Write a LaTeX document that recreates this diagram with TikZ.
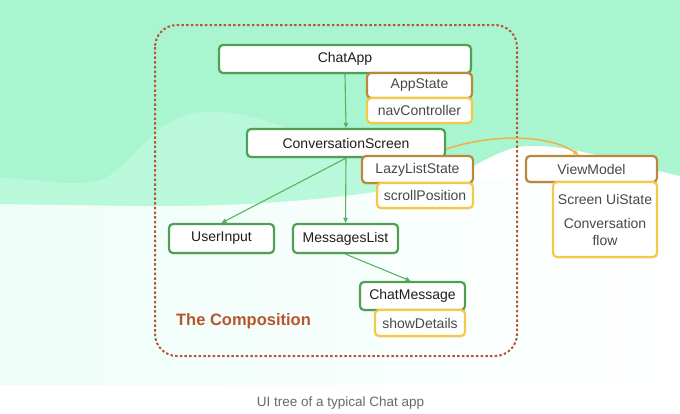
\documentclass[tikz,border=0pt]{standalone}
\usepackage{fontspec}
\setmainfont{Liberation Sans}
\usetikzlibrary{arrows.meta,calc,shadows}
\definecolor{mint}{RGB}{168,245,208}
\definecolor{mintlight}{RGB}{204,251,230}
\definecolor{tint}{RGB}{238,254,249}
\definecolor{gborder}{RGB}{80,160,84}
\definecolor{garrow}{RGB}{92,178,96}
\definecolor{brownb}{RGB}{186,136,58}
\definecolor{yellowb}{RGB}{242,202,72}
\definecolor{dashc}{RGB}{178,88,56}
\definecolor{titlec}{RGB}{182,86,44}
\definecolor{orangec}{RGB}{240,178,72}
\definecolor{txt}{RGB}{30,30,30}
\definecolor{txtb}{RGB}{72,72,72}
\definecolor{capc}{RGB}{105,105,105}
\pgfdeclarehorizontalshading{bgmint}{100bp}{color(0bp)=(mintlight); color(12bp)=(mint); color(85bp)=(mint); color(100bp)=(mintlight)}
\begin{document}
\begin{tikzpicture}[x=1pt,y=-1pt,
  base/.style={draw, fill=white, rounded corners=4pt, line width=2.2pt, inner sep=0pt,
    font=\fontsize{14}{16}\selectfont, text=txt,
    drop shadow={opacity=0.12, shadow xshift=0pt, shadow yshift=-1.5pt}},
  gbox/.style={base, draw=gborder},
  bbox/.style={base, draw=brownb, text=txtb},
  ybox/.style={base, draw=yellowb, text=txtb},
  link/.style={draw=garrow, line width=1.1pt, -{Triangle[length=5pt,width=4.5pt]}},
  vmlink/.style={draw=orangec, line width=1.5pt, -{Triangle[length=5pt,width=4.5pt]}},
]
\useasboundingbox (0,0) rectangle (680,413);
% background
\fill[white] (0,0) rectangle (680,413);
\shade[left color=tint, right color=white] (0,180) rectangle (680,384);
\shade[shading=bgmint]
  (0,0) -- (680,0) -- (680,176)
  .. controls (610,160) and (570,144) .. (525,146)
  .. controls (495,148) and (470,175) .. (420,185)
  .. controls (330,200) and (250,206) .. (150,206)
  -- (0,204) -- cycle;
\fill[mintlight, opacity=0.5]
  (0,178) .. controls (40,178) and (70,188) .. (100,180)
  .. controls (130,170) and (150,118) .. (200,112)
  .. controls (260,106) and (330,150) .. (420,185)
  .. controls (330,200) and (250,206) .. (150,206)
  -- (0,204) -- cycle;
% composition frame
\draw[dashc, line width=2pt, dash pattern=on 2.5pt off 2.2pt, rounded corners=22pt]
  (155,25) rectangle (517,356);
\node[font=\fontsize{16.5}{18}\selectfont\bfseries, text=titlec] (title) at (243.5,321) {The Composition};
% nodes
\node[gbox, minimum width=252pt, minimum height=28pt] (chatapp) at (345,59) {ChatApp};
\node[bbox, minimum width=105pt, minimum height=25pt] (appstate) at (419.5,85.5) {AppState};
\node[ybox, minimum width=105pt, minimum height=25pt] (navctrl) at (419.5,110.5) {navController};
\node[gbox, minimum width=198pt, minimum height=28pt] (convscreen) at (346,143) {ConversationScreen};
\node[bbox, minimum width=111pt, minimum height=27pt] (lazylist) at (417.5,169.5) {LazyListState};
\node[ybox, minimum width=96pt, minimum height=25pt] (scrollpos) at (425,195.5) {scrollPosition};
\node[gbox, minimum width=105pt, minimum height=29pt] (userinput) at (221.5,238.5) {UserInput};
\node[gbox, minimum width=105pt, minimum height=29pt] (msglist) at (345.5,238.5) {MessagesList};
\node[gbox, minimum width=105pt, minimum height=28pt] (chatmsg) at (412.5,296) {ChatMessage};
\node[ybox, minimum width=90pt, minimum height=26pt] (showdet) at (420,323) {showDetails};
\node[bbox, minimum width=131pt, minimum height=26pt] (viewmodel) at (591.5,169) {ViewModel};
\node[ybox, minimum width=104pt, minimum height=75pt, align=center,
  font=\fontsize{14}{17}\selectfont] (uistate) at (605,219.5) {Screen UiState\\[7pt]Conversation\\flow};
% connectors
\draw[link] (chatapp.south) -- (convscreen.north);
\draw[link] (convscreen.south) -- (userinput.north);
\draw[link] (convscreen.south) -- (msglist.north);
\draw[link] (msglist.south) -- ($(chatmsg.north)+(-2,0)$);
\draw[vmlink] ($(convscreen.east)+(0,6)$) .. controls (495,133) and (550,135) .. ($(viewmodel.north)+(-13,0)$);
% caption
\node[font=\fontsize{13.5}{16}\selectfont, text=capc] (caption) at (340.5,403) {UI tree of a typical Chat app};
\end{tikzpicture}
\end{document}
